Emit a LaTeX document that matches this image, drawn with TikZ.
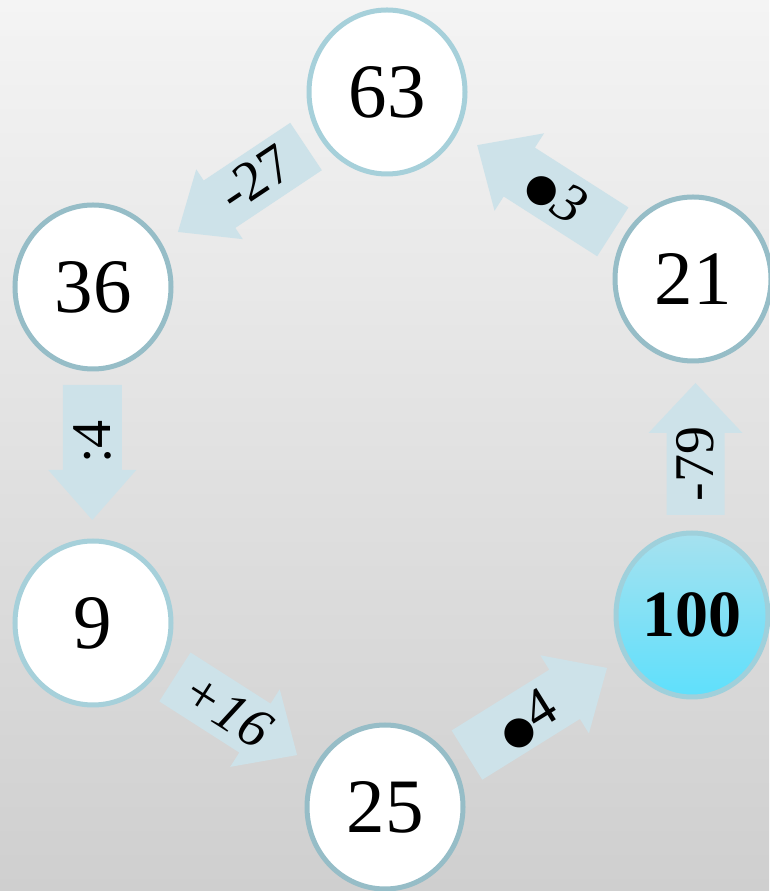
\documentclass[tikz,border=0pt]{standalone}
\usepackage{fontspec}
\setmainfont{Liberation Serif}
\newfontfamily\dejavu{DejaVu Sans}
\usetikzlibrary{shapes.geometric}
\definecolor{arrowfill}{HTML}{CDE2E9}
\definecolor{ringA}{HTML}{A6D0DA}
\definecolor{ringB}{HTML}{96BDC7}
\definecolor{ringC}{HTML}{9FD0DB}
\definecolor{bgtop}{HTML}{F4F4F4}
\definecolor{bgmid}{HTML}{E7E7E7}
\definecolor{bgbot}{HTML}{CFCFCF}
\definecolor{cyantop}{HTML}{A6E1EF}
\definecolor{cyanbot}{HTML}{5EE0FC}
\newcommand\blockarrow[5]{%
  \begin{scope}[shift={#1}, rotate=#2]
    \fill[arrowfill] (-#3/2, -#4/2) -- (#3/2-50, -#4/2) -- (#3/2-50, -#5/2) -- (#3/2, 0)
      -- (#3/2-50, #5/2) -- (#3/2-50, #4/2) -- (-#3/2, #4/2) -- cycle;
  \end{scope}}
\newcommand\bigdot{{\dejavu\fontsize{38}{38}\selectfont ●}}
\tikzset{
  numnode/.style={ellipse, line width=5pt, fill=white, minimum width=156pt, minimum height=164pt,
    inner sep=0pt, font=\fontsize{77}{77}\selectfont},
  lbl/.style={inner sep=0pt, font=\fontsize{56}{56}\selectfont}
}
\begin{document}
\begin{tikzpicture}[x=1pt,y=1pt]
\shade[top color=bgtop, middle color=bgmid, bottom color=bgbot] (0,0) rectangle (769,891);
\useasboundingbox (0,0) rectangle (769,891);
% arrows
\blockarrow{(242,701.75)}{213.7}{154}{57}{84}
\blockarrow{(545,702.5)}{147.4}{161}{58}{92}
\blockarrow{(92.3,438.5)}{-90}{135}{59}{88}
\blockarrow{(695.5,442)}{90}{132}{58}{94}
\blockarrow{(236,175)}{-32.6}{145}{58}{92}
\blockarrow{(537,179.5)}{31.9}{165}{58}{92}
% labels
\node[lbl, rotate=33.7] (l1) at (255,713) {-27};
\node[lbl, rotate=-32.6] (l2) at (556,696) {\bigdot\raisebox{-4pt}{\itshape 3}};
\node[lbl, rotate=90] (l3) at (92,449) {:4};
\node[lbl, rotate=90] (l4) at (695,427) {-79};
\node[lbl, rotate=-32.6] (l5) at (227,181) {\itshape +16};
\node[lbl, rotate=31.9] (l6) at (527,171) {\bigdot\raisebox{2pt}{4}};
% circles
\node[numnode, draw=ringA] (n63) at (387,799) {63};
\node[numnode, draw=ringB] (n36) at (93,604) {36};
\node[numnode, draw=ringB] (n21) at (693,612) {21};
\node[numnode, draw=ringA] (n9) at (93,268) {9};
\node[numnode, draw=ringB] (n25) at (385,84) {25};
\node[numnode, draw=ringC, top color=cyantop, bottom color=cyanbot, minimum width=152pt,
  font=\fontsize{66}{66}\selectfont\bfseries] (n100) at (692,276) {100};
\end{tikzpicture}
\end{document}
